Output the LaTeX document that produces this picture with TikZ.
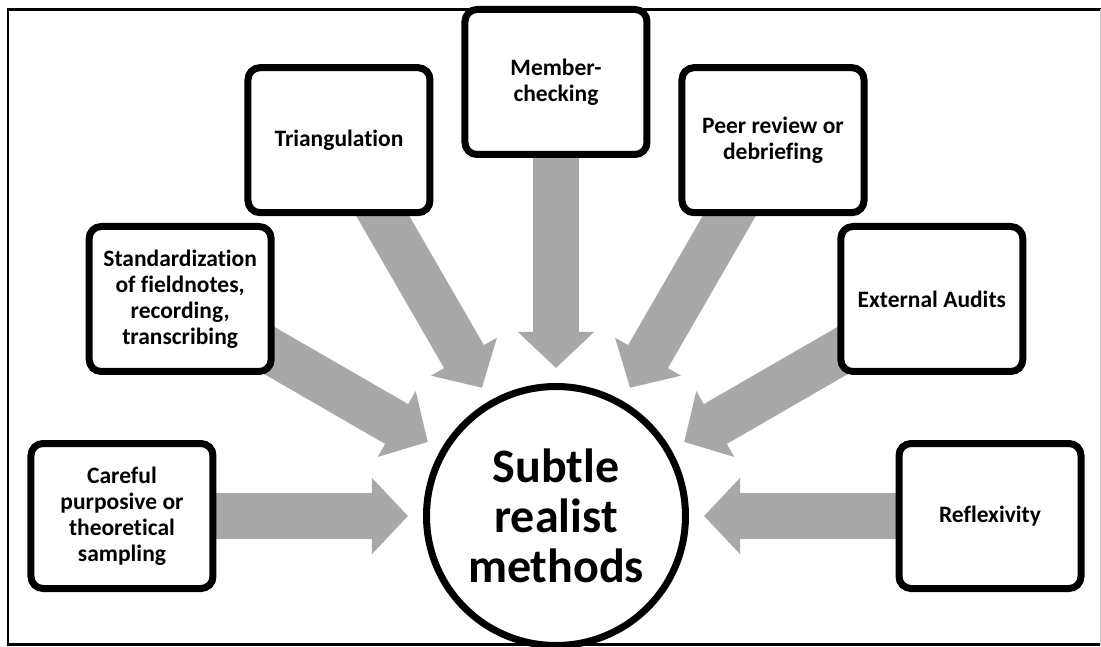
\documentclass[tikz,border=0pt]{standalone}
\usepackage{fontspec}
\setmainfont{Carlito}[Ligatures=NoCommon]
\usetikzlibrary{arrows.meta,shadows,backgrounds}
\definecolor{flowgray}{RGB}{168,168,168}
\tikzset{
  box/.style={draw=black, fill=white, line width=7pt, rounded corners=12pt,
    minimum width=182pt, minimum height=145pt, inner sep=0pt, align=center,
    font=\bfseries\fontsize{23.5}{26}\selectfont,
    drop shadow={shadow xshift=1pt, shadow yshift=-3pt, opacity=.25}},
  flow/.style={draw=flowgray, line width=46pt,
    -{Triangle[length=36pt,width=74pt]}, shorten >=15pt}
}
\begin{document}
\begin{tikzpicture}[x=1pt, y=1pt]
            \useasboundingbox (-556,-130) rectangle (545,516);
            % frame
            \draw[line width=2.5pt] (545,506.5) -- (-548,506.5) -- (-548,-128.5) -- (544,-128.5);
            \draw[gray!40, line width=1pt] (544,506.5) -- (544,-128.5);
            % centre
            \node[draw=black, fill=white, circle, line width=7pt, minimum size=259pt,
              inner sep=0pt, align=center, font=\bfseries\fontsize{48}{50}\selectfont,
              drop shadow={shadow xshift=1pt, shadow yshift=-3pt, opacity=.25}]
              (subtle) at (0,0) {Subtle\\realist\\methods};
            % boxes
            \node[box] (careful) at (180:434) {Careful\\purposive or\\theoretical\\sampling};
            \node[box] (standard) at (150:434) {Standardization\\of fieldnotes,\\recording,\\transcribing};
            \node[box] (triang) at (120:434) {Triangulation};
            \node[box] (member) at (90:434) {Member-\\checking};
            \node[box] (peer) at (60:434) {Peer review or\\debriefing};
            \node[box] (audits) at (30:434) {External Audits};
            \node[box] (reflex) at (0:434) {Reflexivity};
            % arrows
            \begin{scope}[on background layer]
            \draw[flow] (careful.center) -- (subtle);
            \draw[flow] (standard.center) -- (subtle);
            \draw[flow] (triang.center) -- (subtle);
            \draw[flow] (member.center) -- (subtle);
            \draw[flow] (peer.center) -- (subtle);
            \draw[flow] (audits.center) -- (subtle);
            \draw[flow] (reflex.center) -- (subtle);
            \end{scope}
\end{tikzpicture}
\end{document}
